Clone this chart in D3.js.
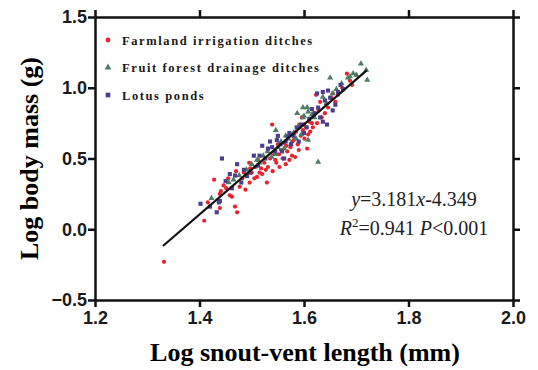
<!DOCTYPE html>
<html>
<head>
<meta charset="utf-8">
<script src="https://cdn.jsdelivr.net/npm/d3@7"></script>
<style>
  body { margin: 0; background: #fff; }
  svg { display: block; }
</style>
</head>
<body>
<div id="chart"></div>
<script>
// --------------------------------------
//  Data (log SVL, log body mass)
// --------------------------------------

const farmland = [
  [1.332,-0.23],[1.409,0.06],[1.416,0.19],[1.428,0.35],[1.439,0.15],[1.441,0.27],
  [1.439,0.25],[1.451,0.29],[1.446,0.31],[1.455,0.36],[1.468,0.16],[1.472,0.12],
  [1.462,0.23],[1.47,0.41],[1.477,0.30],[1.482,0.36],[1.488,0.28],[1.495,0.47],
  [1.496,0.33],[1.497,0.43],[1.5,0.40],[1.505,0.36],[1.51,0.37],[1.512,0.49],
  [1.518,0.43],[1.52,0.39],[1.524,0.47],[1.529,0.33],[1.531,0.44],[1.535,0.50],
  [1.539,0.74],[1.54,0.41],[1.543,0.53],[1.547,0.47],[1.55,0.60],[1.553,0.44],
  [1.556,0.56],[1.559,0.50],[1.562,0.61],[1.565,0.46],[1.568,0.55],[1.571,0.66],
  [1.574,0.58],[1.577,0.52],[1.58,0.63],[1.583,0.51],[1.585,0.69],[1.588,0.60],
  [1.591,0.74],[1.594,0.66],[1.596,0.79],[1.598,0.70],[1.601,0.64],[1.604,0.72],
  [1.606,0.57],[1.608,0.67],[1.61,0.76],[1.612,0.69],[1.615,0.75],[1.62,0.82],
  [1.623,0.95],[1.625,0.75],[1.631,0.90],[1.634,0.79],[1.646,0.86],[1.652,0.93],
  [1.66,0.90],[1.673,1.00],[1.682,1.10],[1.692,1.02],[1.70,1.09],
  [1.458,0.24],[1.485,0.40],[1.507,0.44],[1.515,0.40],[1.527,0.42],[1.545,0.49],
  [1.552,0.53],[1.566,0.59],[1.572,0.49],[1.578,0.62],[1.59,0.56],[1.6,0.74],
  [1.617,0.72],[1.628,0.84],[1.64,0.82],[1.655,0.96],[1.665,0.95],[1.688,1.05]
];

const fruitForest = [
  [1.423,0.22],[1.456,0.33],[1.476,0.38],[1.49,0.42],[1.5,0.46],[1.51,0.49],
  [1.522,0.52],[1.53,0.55],[1.538,0.51],[1.546,0.70],[1.55,0.58],[1.556,0.62],
  [1.562,0.57],[1.57,0.64],[1.575,0.60],[1.58,0.68],[1.587,0.82],[1.59,0.72],
  [1.595,0.67],[1.598,0.79],[1.598,0.86],[1.606,0.86],[1.608,0.83],[1.608,0.63],
  [1.615,0.81],[1.627,0.475],[1.636,0.935],[1.643,0.89],[1.65,1.07],[1.662,0.99],
  [1.672,1.03],[1.684,1.07],[1.688,1.08],[1.694,1.10],[1.709,1.17],[1.719,1.125],
  [1.721,1.055],
  [1.465,0.35],[1.515,0.47],[1.545,0.53],[1.565,0.66],[1.585,0.64],[1.6,0.80],
  [1.62,0.79],[1.655,0.96],[1.70,1.09]
];

const lotusPonds = [
  [1.402,0.18],[1.42,0.16],[1.433,0.12],[1.437,0.19],[1.439,0.20],[1.443,0.50],
  [1.458,0.39],[1.462,0.29],[1.468,0.38],[1.472,0.46],[1.48,0.33],[1.491,0.376],
  [1.504,0.52],[1.512,0.45],[1.52,0.59],[1.526,0.50],[1.531,0.57],[1.539,0.58],
  [1.545,0.55],[1.548,0.63],[1.555,0.60],[1.562,0.50],[1.569,0.65],[1.575,0.60],
  [1.58,0.66],[1.586,0.72],[1.59,0.62],[1.6,0.68],[1.61,0.78],[1.62,0.82],
  [1.625,0.96],[1.627,0.86],[1.631,0.79],[1.636,0.76],[1.636,0.97],[1.64,0.91],
  [1.644,0.74],[1.646,0.98],[1.655,0.84],[1.66,0.88],[1.665,0.97],
  [1.45,0.34],[1.485,0.42],[1.497,0.40],[1.515,0.52],[1.535,0.62],[1.55,0.66],
  [1.558,0.55],[1.565,0.62],[1.572,0.68],[1.595,0.74],[1.605,0.72],[1.615,0.85],
  [1.65,0.93],[1.67,1.02],[1.675,0.99]
];

const seriesNames = ["Farmland irrigation ditches", "Fruit forest drainage ditches", "Lotus ponds"];
const xTicks = [1.2, 1.4, 1.6, 1.8, 2.0];
const yTicks = [-0.5, 0.0, 0.5, 1.0, 1.5];
const slope = 3.181, intercept = -4.349;
const fitRange = [1.33, 1.72];

// --------------------------------------
//  Canvas
// --------------------------------------

const width = 538, height = 370;
const margin = {top: 17, right: 25, bottom: 70, left: 95};
const innerwidth = width - margin.left - margin.right;
const innerheight = height - margin.top - margin.bottom;

const svg = d3.select("#chart")
  .append("svg")
    .attr("width", width)
    .attr("height", height);

const inner = svg.append("g")
    .attr("transform", `translate(${margin.left}, ${margin.top})`);

// --------------------------------------
//  Scales
// --------------------------------------

const x = d3.scaleLinear().domain([1.2, 2.0]).range([0, innerwidth]);
const y = d3.scaleLinear().domain([-0.5, 1.5]).range([innerheight, 0]);

// --------------------------------------
//  Axes (boxed, ticks out on all sides)
// --------------------------------------

const tickFont = "'Liberation Sans', Arial, sans-serif";
const serif = "'Liberation Serif', 'Times New Roman', serif";

inner.append("g")
    .attr("transform", `translate(0, ${innerheight})`)
    .call(d3.axisBottom(x).tickValues(xTicks).tickFormat(d3.format(".1f"))
      .tickSize(7).tickSizeOuter(0).tickPadding(4));

inner.append("g")
    .call(d3.axisTop(x).tickValues(xTicks).tickFormat("")
      .tickSize(7).tickSizeOuter(0));

inner.append("g")
    .call(d3.axisLeft(y).tickValues(yTicks).tickFormat(d3.format(".1f"))
      .tickSize(7).tickSizeOuter(0).tickPadding(1));

inner.append("g")
    .attr("transform", `translate(${innerwidth}, 0)`)
    .call(d3.axisRight(y).tickValues(yTicks).tickFormat("")
      .tickSize(7).tickSizeOuter(0));

inner.selectAll(".domain, .tick line")
    .attr("stroke", "#111")
    .attr("stroke-width", 2.5);

inner.selectAll(".tick text")
    .attr("fill", "#1a1a1a")
    .style("font-family", tickFont)
    .style("font-size", "18px")
    .style("font-weight", "bold");

// --------------------------------------
//  Axis titles
// --------------------------------------

svg.append("text")
    .attr("x", 305)
    .attr("y", 361)
    .attr("text-anchor", "middle")
    .style("font-family", serif)
    .style("font-size", "26px")
    .style("font-weight", "bold")
    .attr("fill", "#000")
    .text("Log snout-vent length (mm)");

svg.append("text")
    .attr("transform", `translate(38, ${margin.top + innerheight / 2}) rotate(-90)`)
    .attr("text-anchor", "middle")
    .style("font-family", serif)
    .style("font-size", "26px")
    .style("font-weight", "bold")
    .attr("fill", "#000")
    .text("Log body mass (g)");

// --------------------------------------
//  Points
// --------------------------------------

const styles = [
  {data: farmland, color: "#e8232b", symbol: d3.symbolCircle, size: 14},
  {data: fruitForest, color: "#4b7d63", symbol: d3.symbolTriangle, size: 16},
  {data: lotusPonds, color: "#4a3f8e", symbol: d3.symbolSquare, size: 17}
];

styles.forEach(s => {
  inner.append("g")
    .selectAll("path")
    .data(s.data)
    .join("path")
      .attr("transform", d => `translate(${x(d[0])}, ${y(d[1])})`)
      .attr("d", d3.symbol(s.symbol, s.size))
      .attr("fill", s.color);
});

// --------------------------------------
//  Regression line
// --------------------------------------

inner.append("line")
    .attr("x1", x(fitRange[0]))
    .attr("y1", y(slope * fitRange[0] + intercept))
    .attr("x2", x(fitRange[1]))
    .attr("y2", y(slope * fitRange[1] + intercept))
    .attr("stroke", "#111")
    .attr("stroke-width", 2.2);

// --------------------------------------
//  Legend
// --------------------------------------

const legend = svg.append("g");
styles.forEach((s, i) => {
  const row = legend.append("g")
    .attr("transform", `translate(108, ${40 + i * 27.5})`);
  row.append("path")
    .attr("d", d3.symbol(s.symbol, s.size * 1.3))
    .attr("fill", s.color);
  row.append("text")
    .attr("x", 14)
    .attr("y", 4.5)
    .style("font-family", serif)
    .style("font-size", "12.5px")
    .style("font-weight", "bold")
    .style("letter-spacing", "1.6px")
    .attr("fill", "#1a1a1a")
    .text(seriesNames[i]);
});

// --------------------------------------
//  Equation
// --------------------------------------

const eq = svg.append("text")
    .attr("x", 414)
    .attr("y", 206)
    .attr("text-anchor", "middle")
    .style("font-family", serif)
    .style("font-size", "20px")
    .attr("fill", "#222");
eq.append("tspan").style("font-style", "italic").text("y");
eq.append("tspan").text("=3.181");
eq.append("tspan").style("font-style", "italic").text("x");
eq.append("tspan").text("-4.349");

const r2 = svg.append("text")
    .attr("x", 414)
    .attr("y", 235)
    .attr("text-anchor", "middle")
    .style("font-family", serif)
    .style("font-size", "20px")
    .attr("fill", "#222");
r2.append("tspan").style("font-style", "italic").text("R");
r2.append("tspan").attr("dy", -8).style("font-size", "13px").text("2");
r2.append("tspan").attr("dy", 8).text("=0.941 ");
r2.append("tspan").style("font-style", "italic").text("P");
r2.append("tspan").text("<0.001");
</script>
</body>
</html>
